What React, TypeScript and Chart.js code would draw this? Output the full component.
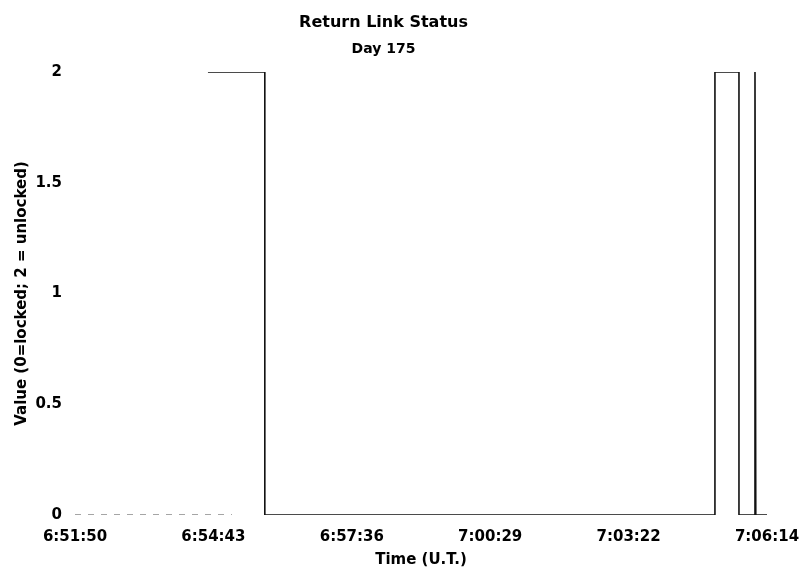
import React, { useEffect, useRef } from "react";
import { Chart, registerables } from "chart.js";

Chart.register(...registerables);

// Time stamps (U.T.) of each sample, and the link status value (null = no data)
const sampleTimes: string[] = [
  "6:51:50", "6:55:06", "6:55:06",
  "6:54:36", "6:55:47", "6:55:47",
  "7:05:09", "7:05:09", "7:05:39", "7:05:39",
  "7:05:59", "7:05:59", "7:06:00", "7:06:14",
];
const statusValues: (number | null)[] = [
  0, 0, null,
  2, 2, 0,
  0, 2, 2, 0,
  0, 2, 0, 0,
];

const xTickLabels: string[] = ["6:51:50", "6:54:43", "6:57:36", "7:00:29", "7:03:22", "7:06:14"];
const yTickValues: number[] = [0, 0.5, 1, 1.5, 2];

const chartTitle = "Return Link Status";
const chartSubtitle = "Day 175";
const xAxisTitle = "Time (U.T.)";
const yAxisTitle = "Value (0=locked; 2 = unlocked)";

const toSec = (t: string): number => {
  const [h, m, s] = t.split(":").map(Number);
  return h * 3600 + m * 60 + s;
};

const FONT = "'DejaVu Sans', Arial, sans-serif";

export default function App() {
  const ref = useRef<HTMLCanvasElement | null>(null);

  useEffect(() => {
    document.body.style.margin = "0";
    const canvas = ref.current;
    if (!canvas) return;
    const xMin = toSec(xTickLabels[0]);
    const xMax = toSec(xTickLabels[xTickLabels.length - 1]);
    const step = (xMax - xMin) / (xTickLabels.length - 1);
    const data = sampleTimes.map((t, i) => ({ x: toSec(t), y: statusValues[i] }));

    const chart = new Chart(canvas, {
      type: "line",
      data: {
        datasets: [
          {
            label: "Status",
            data: data as any,
            borderColor: "#111",
            borderWidth: 1.6,
            pointRadius: 0,
            tension: 0,
            spanGaps: false,
            segment: {
              borderDash: (ctx: any) => (ctx.p0DataIndex === 0 ? [6, 7] : undefined),
              borderColor: (ctx: any) => (ctx.p0DataIndex === 0 ? "#888" : undefined),
            },
          },
        ],
      },
      options: {
        animation: false,
        responsive: false,
        events: [],
        layout: { padding: { left: 0, right: 39, top: 0, bottom: 0 } },
        plugins: {
          legend: { display: false },
          tooltip: { enabled: false },
          title: {
            display: true,
            text: chartTitle,
            color: "#000",
            font: { family: FONT, size: 16, weight: "bold" },
            padding: { top: 13, bottom: 0 },
          },
          subtitle: {
            display: true,
            text: chartSubtitle,
            color: "#000",
            font: { family: FONT, size: 14, weight: "bold" },
            padding: { top: 8.5, bottom: 14.5 },
          },
        },
        scales: {
          x: {
            type: "linear",
            min: xMin,
            max: xMax,
            grid: {
              display: true,
              drawOnChartArea: false,
              drawTicks: true,
              tickLength: 13,
              tickColor: "rgba(0,0,0,0)",
            },
            border: { display: false },
            afterBuildTicks: (scale: any) => {
              scale.ticks = xTickLabels.map((_, i) => ({ value: xMin + i * step }));
            },
            afterFit: (scale: any) => {
              scale.height = 69;
            },
            ticks: {
              autoSkip: false,
              maxRotation: 0,
              minRotation: 0,
              padding: 0,
              color: "#000",
              font: { family: FONT, size: 15, weight: "bold" },
              callback: (_v: any, i: number) => xTickLabels[i],
            },
            title: {
              display: true,
              text: xAxisTitle,
              color: "#000",
              font: { family: FONT, size: 15, weight: "bold" },
              padding: { top: 5, bottom: 15 },
            },
          },
          y: {
            type: "linear",
            min: 0,
            max: 2,
            grid: { display: false, drawTicks: false },
            border: { display: false },
            afterBuildTicks: (scale: any) => {
              scale.ticks = yTickValues.map((v) => ({ value: v }));
            },
            afterFit: (scale: any) => {
              scale.width = 75;
            },
            ticks: {
              padding: 13,
              color: "#000",
              font: { family: FONT, size: 15, weight: "bold" },
              callback: (v: any) => String(v),
            },
            title: {
              display: true,
              text: yAxisTitle,
              color: "#000",
              font: { family: FONT, size: 15, weight: "bold" },
              padding: { top: 13, bottom: 0 },
            },
          },
        },
      } as any,
    });
    return () => chart.destroy();
  }, []);

  return <canvas ref={ref} width={806} height={584} style={{ display: "block" }} />;
}
